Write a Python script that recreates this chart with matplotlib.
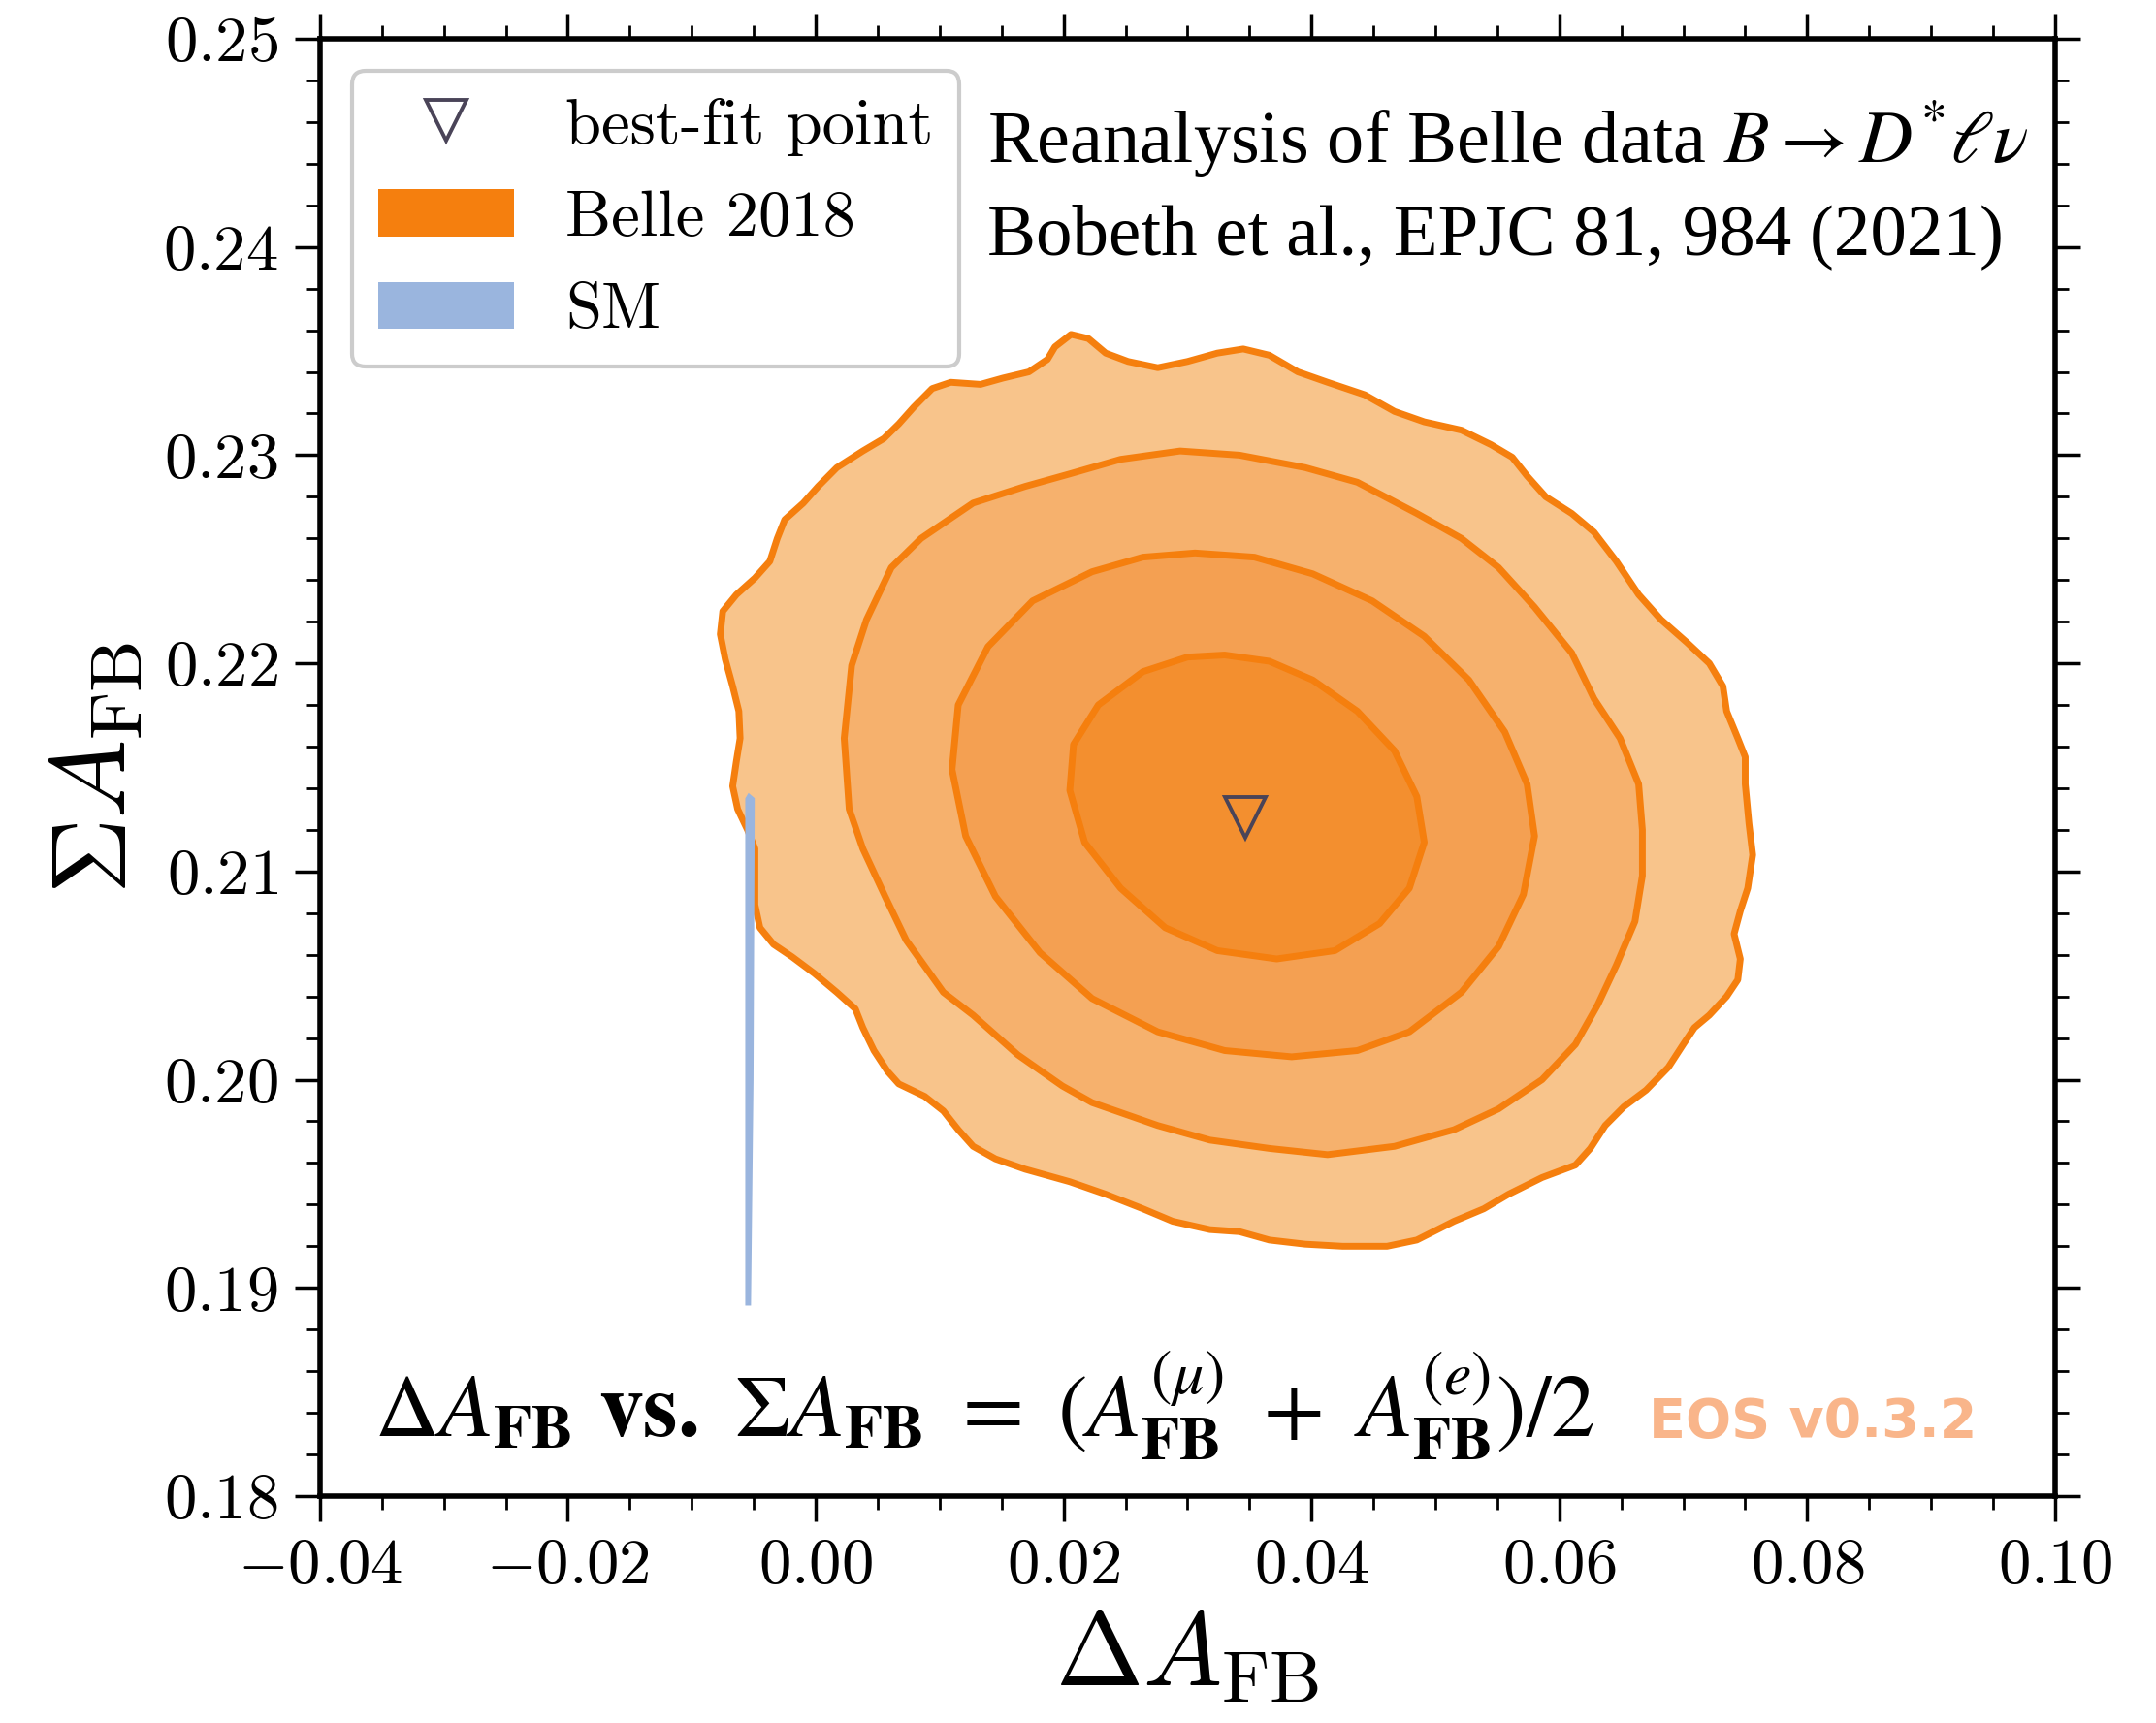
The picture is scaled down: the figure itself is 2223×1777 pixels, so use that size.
import numpy as np
import matplotlib
matplotlib.use("Agg")
import matplotlib.pyplot as plt
from matplotlib.patches import Patch
from matplotlib.lines import Line2D
from matplotlib.ticker import MultipleLocator, FuncFormatter

plt.rcParams["font.family"] = "serif"
plt.rcParams["font.serif"] = ["cmr10"]
plt.rcParams["mathtext.fontset"] = "cm"
plt.rcParams["axes.formatter.use_mathtext"] = True

# contour outlines (Delta A_FB, Sigma A_FB), outermost first
outer_x = [0.0206, 0.0220, 0.0234, 0.0252, 0.0276, 0.0300, 0.0324, 0.0345, 0.0366, 0.0389,
           0.0413, 0.0443, 0.0467, 0.0491, 0.0521, 0.0545, 0.0562, 0.0574, 0.0589, 0.0610,
           0.0628, 0.0646, 0.0664, 0.0682, 0.0703, 0.0721, 0.0732, 0.0735, 0.0744, 0.0750,
           0.0750, 0.0753, 0.0756, 0.0752, 0.0746, 0.0741, 0.0746, 0.0744, 0.0735, 0.0721,
           0.0709, 0.0700, 0.0688, 0.0670, 0.0652, 0.0637, 0.0625, 0.0613, 0.0586, 0.0559,
           0.0539, 0.0515, 0.0485, 0.0461, 0.0425, 0.0395, 0.0366, 0.0342, 0.0318, 0.0288,
           0.0264, 0.0234, 0.0205, 0.0169, 0.0145, 0.0127, 0.0115, 0.0103, 0.0088, 0.0067,
           0.0058, 0.0047, 0.0038, 0.0032, 0.0017, -0.0001, -0.0019, -0.0034, -0.0045, -0.0049,
           -0.0049, -0.0049, -0.0055, -0.0063, -0.0067, -0.0064, -0.0061, -0.0062, -0.0067, -0.0073,
           -0.0077, -0.0075, -0.0064, -0.0049, -0.0037, -0.0031, -0.0025, -0.0010, 0.0002, 0.0017,
           0.0038, 0.0055, 0.0067, 0.0079, 0.0094, 0.0109, 0.0133, 0.0151, 0.0172, 0.0187, 0.0193]
outer_y = [0.2358, 0.2356, 0.2349, 0.2345, 0.2342, 0.2345, 0.2349, 0.2351, 0.2348, 0.2340,
           0.2335, 0.2329, 0.2321, 0.2316, 0.2312, 0.2305, 0.2299, 0.2290, 0.2280, 0.2272,
           0.2263, 0.2249, 0.2233, 0.2221, 0.2210, 0.2200, 0.2189, 0.2177, 0.2164, 0.2155,
           0.2142, 0.2123, 0.2108, 0.2092, 0.2081, 0.2070, 0.2058, 0.2048, 0.2040, 0.2031,
           0.2025, 0.2017, 0.2006, 0.1995, 0.1987, 0.1978, 0.1967, 0.1959, 0.1953, 0.1945,
           0.1938, 0.1932, 0.1923, 0.1920, 0.1920, 0.1921, 0.1923, 0.1927, 0.1928, 0.1932,
           0.1938, 0.1945, 0.1951, 0.1957, 0.1962, 0.1968, 0.1976, 0.1985, 0.1992, 0.1998,
           0.2004, 0.2014, 0.2025, 0.2034, 0.2042, 0.2051, 0.2059, 0.2065, 0.2073, 0.2084,
           0.2098, 0.2111, 0.2120, 0.2130, 0.2141, 0.2153, 0.2164, 0.2177, 0.2189, 0.2202,
           0.2214, 0.2225, 0.2233, 0.2241, 0.2249, 0.2260, 0.2269, 0.2277, 0.2285, 0.2294,
           0.2302, 0.2308, 0.2315, 0.2323, 0.2332, 0.2335, 0.2334, 0.2337, 0.2340, 0.2346, 0.2352]

second_x = [0.0246, 0.0294, 0.0342, 0.0395, 0.0437, 0.0485, 0.0521, 0.0551, 0.0580, 0.0610,
            0.0628, 0.0649, 0.0664, 0.0667, 0.0667, 0.0661, 0.0646, 0.0631, 0.0613, 0.0586,
            0.0551, 0.0515, 0.0467, 0.0413, 0.0366, 0.0318, 0.0276, 0.0223, 0.0199, 0.0163,
            0.0127, 0.0103, 0.0073, 0.0056, 0.0038, 0.0027, 0.0023, 0.0029, 0.0041, 0.0061,
            0.0085, 0.0127, 0.0169, 0.0205]
second_y = [0.2298, 0.2302, 0.2300, 0.2294, 0.2287, 0.2272, 0.2260, 0.2246, 0.2227, 0.2205,
            0.2183, 0.2164, 0.2142, 0.2120, 0.2098, 0.2076, 0.2055, 0.2036, 0.2017, 0.2000,
            0.1986, 0.1976, 0.1968, 0.1964, 0.1967, 0.1971, 0.1978, 0.1989, 0.1997, 0.2012,
            0.2031, 0.2042, 0.2067, 0.2088, 0.2111, 0.2130, 0.2164, 0.2199, 0.2221, 0.2246,
            0.2260, 0.2277, 0.2285, 0.2291]

third_x = [0.0306, 0.0354, 0.0401, 0.0449, 0.0491, 0.0527, 0.0556, 0.0574, 0.0580, 0.0571,
           0.0551, 0.0521, 0.0479, 0.0437, 0.0384, 0.0330, 0.0276, 0.0223, 0.0181, 0.0145,
           0.0121, 0.0110, 0.0115, 0.0139, 0.0175, 0.0223, 0.0264]
third_y = [0.2253, 0.2251, 0.2243, 0.2230, 0.2213, 0.2192, 0.2167, 0.2142, 0.2117, 0.2089,
           0.2064, 0.2042, 0.2023, 0.2014, 0.2011, 0.2014, 0.2023, 0.2039, 0.2061, 0.2088,
           0.2117, 0.2149, 0.2180, 0.2208, 0.2230, 0.2244, 0.2251]

inner_x = [0.0330, 0.0366, 0.0401, 0.0437, 0.0467, 0.0485, 0.0491, 0.0479, 0.0455, 0.0419,
           0.0372, 0.0324, 0.0282, 0.0246, 0.0217, 0.0205, 0.0208, 0.0228, 0.0264, 0.0300]
inner_y = [0.2204, 0.2201, 0.2192, 0.2177, 0.2158, 0.2136, 0.2114, 0.2092, 0.2075, 0.2062,
           0.2058, 0.2062, 0.2073, 0.2092, 0.2114, 0.2139, 0.2161, 0.2180, 0.2196, 0.2203]

sm_x = [-0.0054, -0.0050, -0.0051, -0.0053, -0.0056, -0.0056, -0.0056]
sm_y = [0.2137, 0.2135, 0.2000, 0.1892, 0.1892, 0.2000, 0.2135]

best_fit = (0.0347, 0.2126)

fills = ["#F8C48B", "#F6B16D", "#F4A052", "#F38F2F"]
edge = "#F57F0E"
sm_color = "#9AB5DE"
marker_color = "#4A4458"

fig = plt.figure(figsize=(22.23, 17.77), dpi=100)
ax = fig.add_axes([0.1484, 0.1317, 0.8048, 0.8458])

contours = [(outer_x, outer_y), (second_x, second_y), (third_x, third_y), (inner_x, inner_y)]
for (cx, cy), fc in zip(contours, fills):
    ax.fill(cx, cy, facecolor=fc, edgecolor=edge, linewidth=5, joinstyle="round", zorder=2)

ax.fill(sm_x, sm_y, facecolor=sm_color, edgecolor=sm_color, linewidth=1.5, zorder=3)

ax.plot([best_fit[0]], [best_fit[1]], marker="v", markersize=30, markerfacecolor="none",
        markeredgecolor=marker_color, markeredgewidth=2.8, linestyle="none", zorder=4)

ax.set_xlim(-0.04, 0.10)
ax.set_ylim(0.18, 0.25)
ax.xaxis.set_major_locator(MultipleLocator(0.02))
ax.xaxis.set_minor_locator(MultipleLocator(0.005))
ax.yaxis.set_major_locator(MultipleLocator(0.01))
ax.yaxis.set_minor_locator(MultipleLocator(0.002))
fmt = FuncFormatter(lambda v, p: r"$%.2f$" % v)
ax.xaxis.set_major_formatter(fmt)
ax.yaxis.set_major_formatter(fmt)
ax.tick_params(which="both", direction="out", top=True, right=True, labelsize=48, pad=12)
ax.tick_params(which="major", length=19, width=2.5)
ax.tick_params(which="minor", length=10, width=2)
for s in ax.spines.values():
    s.set_linewidth(4)

ax.set_xlabel(r"$\Delta A_{\mathrm{FB}}$", fontsize=78, labelpad=10)
ax.set_ylabel(r"$\Sigma A_{\mathrm{FB}}$", fontsize=78, labelpad=14)

handles = [Line2D([], [], marker="v", markersize=30, markerfacecolor="none",
                  markeredgecolor=marker_color, markeredgewidth=2.8, linestyle="none"),
           Patch(facecolor=edge, edgecolor="none"),
           Patch(facecolor=sm_color, edgecolor="none")]
leg = ax.legend(handles, ["best-fit point", "Belle 2018", "SM"], loc="upper left",
                fontsize=48, handlelength=2.1, handleheight=0.75, labelspacing=0.52,
                borderpad=0.4, handletextpad=0.8, bbox_to_anchor=(0.0, 1.0),
                fancybox=True, framealpha=1.0, edgecolor="#CCCCCC")
leg.get_frame().set_linewidth(3)

ax.text(0.3846, 0.9155, r"Reanalysis of Belle data $B \to D^{*}\ell\nu$",
        transform=ax.transAxes, fontsize=55, family="Liberation Serif", math_fontfamily="stix")
ax.text(0.3846, 0.852, "Bobeth et al., EPJC 81, 984 (2021)",
        transform=ax.transAxes, fontsize=54, family="Liberation Serif")

ax.text(0.0313, 0.0406,
        r"$\Delta A_{\mathbf{FB}}$ $\mathbf{vs.}$ $\Sigma A_{\mathbf{FB}}\ =\ (A_{\mathbf{FB}}^{(\mu)}\ +\ A_{\mathbf{FB}}^{(e)})/2$",
        transform=ax.transAxes, fontsize=66, family="Liberation Serif", math_fontfamily="stix")
ax.text(0.766, 0.0406, "EOS v0.3.2", transform=ax.transAxes, fontsize=40,
        family="DejaVu Sans", fontweight="bold", color="#F9B58A")

fig.savefig("out.png", dpi=100)
